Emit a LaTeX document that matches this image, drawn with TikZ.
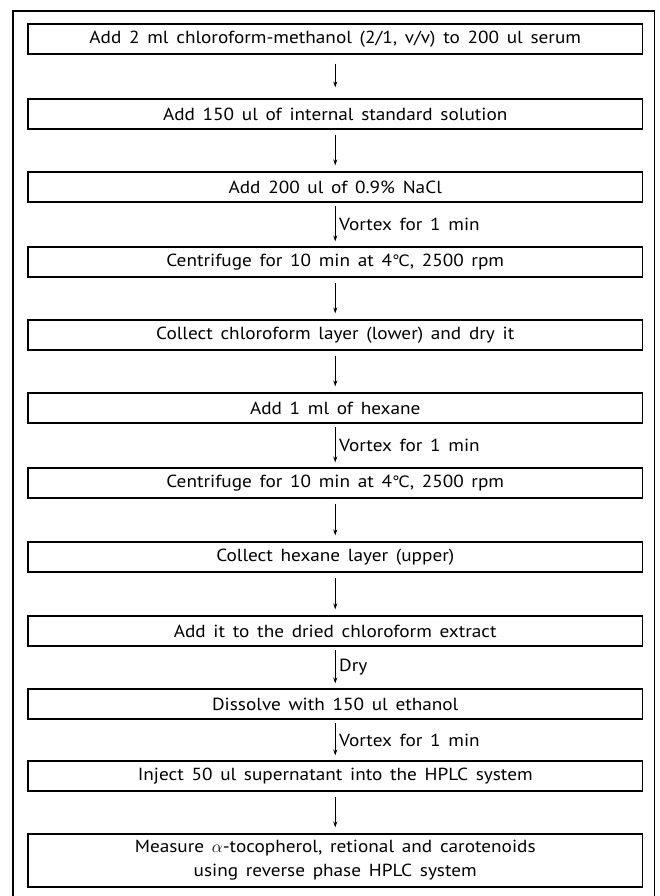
\documentclass[tikz,border=0pt]{standalone}
\usepackage{fontspec}
\setmainfont{PT Sans}[FakeStretch=1.1,WordSpace=1.5]
\newfontfamily\symf{DejaVu Sans}[Scale=0.9]
\usetikzlibrary{arrows.meta}
\newcommand{\degC}{{\symf ℃}}
\begin{document}
\begin{tikzpicture}[x=1pt,y=-1pt,
  txt/.style={font=\fontsize{17.5}{24}\selectfont},
  box/.style={draw,line width=1.1pt,minimum width=614.5pt,minimum height=30pt,inner sep=0pt,txt},
  arr/.style={-{Stealth[length=6pt,width=4pt]},line width=0.9pt},
  plain/.style={arr,shorten <=5pt,shorten >=6pt},
  lab/.style={arr,shorten <=3pt,shorten >=5pt},
  lbl/.style={txt,inner sep=3.5pt,anchor=west}]
\useasboundingbox (0,0) rectangle (660,896);
\draw[line width=1.1pt] (13,896) -- (13,11) -- (654.5,11) -- (654.5,896);
\node[box] (b1) at (335.25,39) {Add 2 ml chloroform-methanol (2/1, v/v) to 200 ul serum};
\node[box] (b2) at (335.25,114) {Add 150 ul of internal standard solution};
\node[box] (b3) at (335.25,187) {Add 200 ul of 0.9\% NaCl};
\node[box] (b4) at (335.25,262) {Centrifuge for 10 min at 4\degC, 2500 rpm};
\node[box] (b5) at (335.25,335) {Collect chloroform layer (lower) and dry it};
\node[box] (b6) at (335.25,408) {Add 1 ml of hexane};
\node[box] (b7) at (335.25,483) {Centrifuge for 10 min at 4\degC, 2500 rpm};
\node[box] (b8) at (335.25,557) {Collect hexane layer (upper)};
\node[box] (b9) at (335.25,631) {Add it to the dried chloroform extract};
\node[box] (b10) at (335.25,704) {Dissolve with 150 ul ethanol};
\node[box] (b11) at (335.25,776) {Inject 50 ul supernatant into the HPLC system};
\node[box,minimum height=53pt,align=center] (b12) at (335.25,860.5) {Measure $\alpha$-tocopherol, retional and carotenoids\\using reverse phase HPLC system};
\draw[arr,shorten <=9pt,shorten >=11pt] (b1) -- (b2);
\draw[plain] (b2) -- (b3);
\draw[lab] (b3) -- node[lbl]{Vortex for 1 min} (b4);
\draw[plain] (b4) -- (b5);
\draw[plain] (b5) -- (b6);
\draw[lab] (b6) -- node[lbl]{Vortex for 1 min} (b7);
\draw[plain] (b7) -- (b8);
\draw[plain] (b8) -- (b9);
\draw[lab] (b9) -- node[lbl]{Dry} (b10);
\draw[lab] (b10) -- node[lbl]{Vortex for 1 min} (b11);
\draw[plain] (b11) -- (b12);
\end{tikzpicture}
\end{document}
